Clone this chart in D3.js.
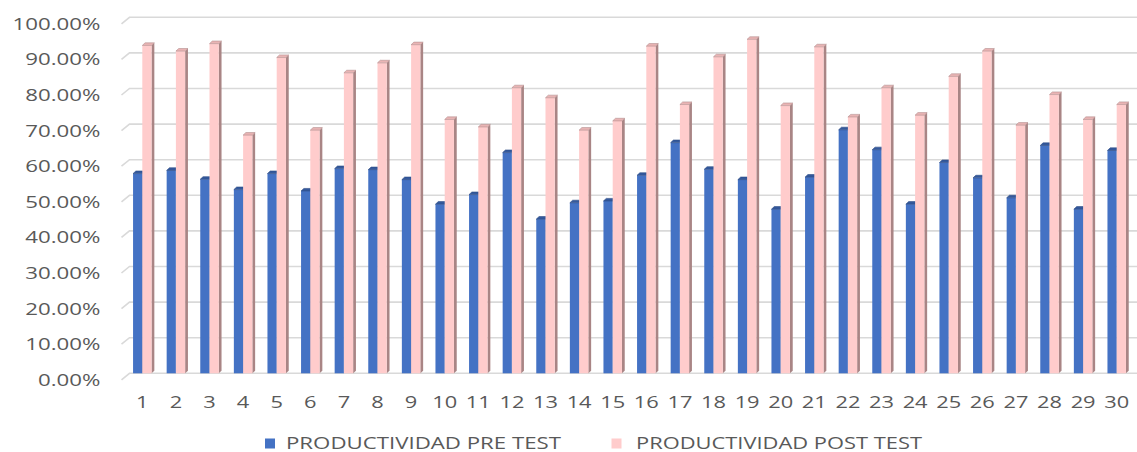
<!DOCTYPE html>
<html>
<head>
<meta charset="utf-8">
<script src="https://cdn.jsdelivr.net/npm/d3@7"></script>
<style>
  html, body { margin: 0; padding: 0; background: #ffffff; }
  svg { display: block; }
  text { font-family: "Open Sans", "Liberation Sans", sans-serif; fill: #595959; }
</style>
</head>
<body>
<svg id="chart" width="1137" height="452"></svg>
<script>
// Participants 1..30
const categories = d3.range(1, 31).map(String);

// Productivity per participant, before and after
const preTest = [0.561, 0.570, 0.545, 0.516, 0.561, 0.512, 0.575, 0.572, 0.544, 0.475,
                 0.502, 0.620, 0.433, 0.479, 0.484, 0.556, 0.648, 0.573, 0.544, 0.461,
                 0.551, 0.684, 0.628, 0.475, 0.592, 0.549, 0.493, 0.640, 0.461, 0.626];
const postTest = [0.921, 0.905, 0.926, 0.669, 0.887, 0.683, 0.844, 0.872, 0.923, 0.713,
                  0.692, 0.802, 0.774, 0.683, 0.709, 0.919, 0.755, 0.889, 0.938, 0.752,
                  0.917, 0.720, 0.802, 0.725, 0.834, 0.905, 0.697, 0.783, 0.713, 0.755];

const seriesNames = ["PRODUCTIVIDAD PRE TEST", "PRODUCTIVIDAD POST TEST"];
const yTicks = [0, 0.1, 0.2, 0.3, 0.4, 0.5, 0.6, 0.7, 0.8, 0.9, 1.0];

const series = [
  { name: seriesNames[0], values: preTest,
    front: "#4472c4", side: "#2f528f", top: "#34599c", edge: "#2a4a85" },
  { name: seriesNames[1], values: postTest,
    front: "#ffcccc", side: "#a98585", top: "#e9b4b4", edge: "#b48e8e" }
];

const svg = d3.select("#chart");

const y = d3.scaleLinear().domain([0, 1]).range([373.3, 17.3]);
const x = d3.scaleBand().domain(categories).range([125.5, 1133.5])
  .paddingInner(0.45).paddingOuter(0.225);
const xs = d3.scaleBand().domain(seriesNames).range([0, x.bandwidth()]);

// depth offset of the 3D columns and of the back wall
const dx = 2.8, dy = 2.6;
const wallDx = 8, wallDy = 6.5;
const fmt = d3.format(".2%");

// back-wall gridlines with the short floor bevel on the left
const grid = svg.append("g");
yTicks.forEach(t => {
  const yy = y(t);
  grid.append("path")
    .attr("d", `M${129.5 - wallDx},${yy + wallDy} L129.5,${yy} L1137,${yy}`)
    .attr("fill", "none").attr("stroke", "#d9d9d9").attr("stroke-width", 1.6);
});

// horizontal stretch applied to the labels
const probe = svg.append("text").attr("font-size", 15.5).text("100.00%");
const labelScale = 88 / probe.node().getComputedTextLength();
probe.remove();

svg.append("g").selectAll("text").data(yTicks).join("text")
  .attr("font-size", 15.5)
  .attr("text-anchor", "end")
  .attr("transform", d => `translate(100.5,${y(d) + 12.5}) scale(${labelScale},1)`)
  .text(d => fmt(d));

svg.append("g").selectAll("text").data(categories).join("text")
  .attr("font-size", 15.5)
  .attr("text-anchor", "middle")
  .attr("transform", d => `translate(${x(d) + x.bandwidth() / 2},407.5) scale(${labelScale * 0.98},1)`)
  .text(d => d);

// columns
const bars = svg.append("g");
series.forEach(s => {
  const g = bars.append("g");
  categories.forEach((c, i) => {
    const x0 = x(c) + xs(s.name);
    const x1 = x0 + xs.bandwidth();
    const yt = y(s.values[i]);
    const yb = y(0);
    // right side face
    g.append("path")
      .attr("d", `M${x1},${yt} L${x1 + dx},${yt - dy} L${x1 + dx},${yb - dy} L${x1},${yb} Z`)
      .attr("fill", s.side);
    // front face
    g.append("rect")
      .attr("x", x0).attr("y", yt)
      .attr("width", x1 - x0).attr("height", yb - yt)
      .attr("fill", s.front);
    // top face
    g.append("path")
      .attr("d", `M${x0},${yt} L${x0 + dx},${yt - dy} L${x1 + dx},${yt - dy} L${x1},${yt} Z`)
      .attr("fill", s.top).attr("stroke", s.edge).attr("stroke-width", 0.6);
  });
});

// legend
const legend = [
  { s: series[0], sx: 265, tx: 286, w: 275 },
  { s: series[1], sx: 611.5, tx: 636, w: 286 }
];
const lg = svg.append("g");
legend.forEach(l => {
  lg.append("rect").attr("x", l.sx).attr("y", 438.5).attr("width", 10).attr("height", 10)
    .attr("fill", l.s.front);
  lg.append("text").attr("x", l.tx).attr("y", 448.5)
    .attr("font-size", 15.5)
    .attr("textLength", l.w).attr("lengthAdjust", "spacingAndGlyphs")
    .text(l.s.name);
});
</script>
</body>
</html>
